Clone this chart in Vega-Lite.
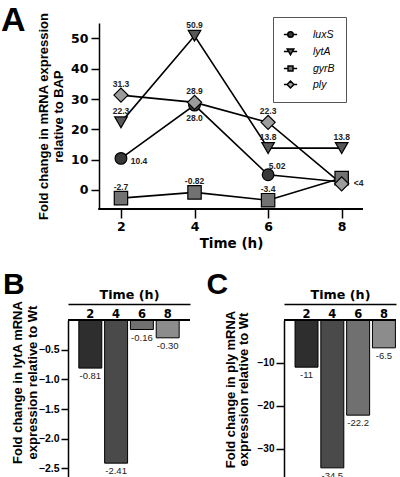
{
  "$schema": "https://vega.github.io/schema/vega-lite/v6.json",
  "background": "white",
  "padding": {"left": 1, "right": 0, "top": 4, "bottom": 0},
  "config": {
    "view": {"stroke": null},
    "font": "Liberation Sans",
    "axis": {"domainColor": "black", "tickColor": "black", "labelColor": "black", "titleColor": "black", "grid": false, "domainWidth": 1.5, "tickWidth": 1.5, "labelOverlap": false}
  },
  "spacing": 20,
  "vconcat": [
    {
      "width": 295,
      "height": 186,
      "title": {"text": "A", "anchor": "start", "frame": "group", "fontSize": 34, "fontWeight": "bold", "font": "Liberation Sans", "color": "black", "dx": -67, "dy": 30},
      "data": {"values": [
        {"gene": "luxS", "time": 2, "value": 10.4, "label": "10.4"},
        {"gene": "luxS", "time": 4, "value": 28.0, "label": "28.0"},
        {"gene": "luxS", "time": 6, "value": 5.02, "label": "5.02"},
        {"gene": "luxS", "time": 8, "value": 2.6, "label": ""},
        {"gene": "lytA", "time": 2, "value": 22.3, "label": "22.3"},
        {"gene": "lytA", "time": 4, "value": 50.9, "label": "50.9"},
        {"gene": "lytA", "time": 6, "value": 13.8, "label": "13.8"},
        {"gene": "lytA", "time": 8, "value": 13.8, "label": "13.8"},
        {"gene": "gyrB", "time": 2, "value": -2.7, "label": "-2.7"},
        {"gene": "gyrB", "time": 4, "value": -0.82, "label": "-0.82"},
        {"gene": "gyrB", "time": 6, "value": -3.4, "label": "-3.4"},
        {"gene": "gyrB", "time": 8, "value": 3.9, "label": ""},
        {"gene": "ply", "time": 2, "value": 31.3, "label": "31.3"},
        {"gene": "ply", "time": 4, "value": 28.9, "label": "28.9"},
        {"gene": "ply", "time": 6, "value": 22.3, "label": "22.3"},
        {"gene": "ply", "time": 8, "value": 2.0, "label": "<4"}
      ]},
      "encoding": {
        "x": {"field": "time", "type": "quantitative", "scale": {"domain": [0.56, 8.58], "nice": false, "zero": false},
          "axis": {"values": [2, 4, 6, 8], "domain": false, "title": "Time (h)", "titleX": 163, "titleFont": "DejaVu Sans", "titleFontSize": 13.5, "titleFontWeight": "bold", "titlePadding": 4, "labelFont": "DejaVu Sans", "labelFontSize": 12.5, "labelFontWeight": "bold", "tickSize": 9, "labelPadding": 2, "labelFlush": false, "labelOverlap": false}},
        "y": {"field": "value", "type": "quantitative", "scale": {"domain": [-6.3, 55.1], "nice": false, "zero": false},
          "axis": {"values": [0, 10, 20, 30, 40, 50], "offset": -31, "title": ["Fold change in mRNA expression", "relative to BAP"], "titleX": -48.5, "titleFontSize": 13, "titleFontWeight": "bold", "titleLineHeight": 15, "labelFont": "DejaVu Sans", "labelFontSize": 12.5, "labelFontWeight": "bold", "tickSize": 8, "labelPadding": 3, "labelOverlap": false}}
      },
      "layer": [
        {"mark": {"type": "rule", "color": "black", "strokeWidth": 1.5},
          "encoding": {"x": {"datum": 1.4}, "x2": {"datum": 8.58}, "y": {"datum": -6.3}}},
        {"mark": {"type": "line", "color": "black", "strokeWidth": 1.6}, "encoding": {"detail": {"field": "gene"}}},
        {"mark": {"type": "point", "filled": true, "stroke": "black", "strokeWidth": 1.2, "opacity": 1},
          "encoding": {
            "shape": {"field": "gene", "type": "nominal", "scale": {"domain": ["luxS", "lytA", "gyrB", "ply"], "range": ["circle", "triangle-down", "square", "diamond"]}, "legend": null},
            "fill": {"field": "gene", "type": "nominal", "scale": {"domain": ["luxS", "lytA", "gyrB", "ply"], "range": ["#383838", "#585858", "#727272", "#9c9c9c"]}, "legend": null},
            "size": {"field": "gene", "type": "nominal", "scale": {"domain": ["luxS", "lytA", "gyrB", "ply"], "range": [137, 200, 100, 170]}, "legend": null}
          }},
        {"transform": [{"filter": "datum.value > 1000"}],
          "mark": {"type": "point", "filled": true, "stroke": "black", "strokeWidth": 1.5, "opacity": 1},
          "encoding": {
            "shape": {"field": "gene", "type": "nominal", "scale": {"domain": ["luxS", "lytA", "gyrB", "ply"], "range": [
              "M-1.2,0H-0.5M0.5,0H1.2M-0.5,0A0.5,0.5,0,1,1,0.5,0A0.5,0.5,0,1,1,-0.5,0Z",
              "M-1.2,0H-0.3M0.3,0H1.2M-0.6,-0.45L0.6,-0.45L0,0.6Z",
              "M-1.2,0H-0.45M0.45,0H1.2M-0.45,-0.45H0.45V0.45H-0.45Z",
              "M-1.2,0H-0.62M0.62,0H1.2M-0.62,0L0,-0.62L0.62,0L0,0.62Z"]},
              "legend": {"title": null, "orient": "none", "legendX": 205, "legendY": -6, "strokeColor": "#555", "fillColor": "white", "padding": 11, "symbolSize": 121, "labelFontSize": 10.5, "labelFontStyle": "italic", "labelColor": "black", "labelOffset": 16, "rowPadding": 4,
                "encode": {"symbols": {"update": {"stroke": {"value": "black"}, "strokeWidth": {"value": 1.5}, "opacity": {"value": 1}}}}}},
            "fill": {"field": "gene", "type": "nominal", "scale": {"domain": ["luxS", "lytA", "gyrB", "ply"], "range": ["#383838", "#585858", "#727272", "#9c9c9c"]},
              "legend": {"title": null, "orient": "none", "legendX": 205, "legendY": -6, "strokeColor": "#555", "fillColor": "white", "padding": 11, "symbolSize": 121, "labelFontSize": 10.5, "labelFontStyle": "italic", "labelColor": "black", "labelOffset": 16, "rowPadding": 4,
                "encode": {"symbols": {"update": {"stroke": {"value": "black"}, "strokeWidth": {"value": 1.5}, "opacity": {"value": 1}}}}}}
          }},
        {"transform": [{"filter": "datum.gene == 'lytA' || (datum.gene == 'gyrB' && datum.time < 8) || (datum.gene == 'ply' && datum.time < 8)"}],
          "mark": {"type": "text", "dy": -11, "fontSize": 8.5, "fontWeight": "bold", "font": "Liberation Sans", "color": "#222"},
          "encoding": {"text": {"field": "label"}}},
        {"transform": [{"filter": "datum.gene == 'luxS' && datum.time == 2"}],
          "mark": {"type": "text", "dx": 18, "dy": 3, "fontSize": 8.5, "fontWeight": "bold", "font": "Liberation Sans", "color": "#222"},
          "encoding": {"text": {"field": "label"}}},
        {"transform": [{"filter": "datum.gene == 'luxS' && datum.time == 4"}],
          "mark": {"type": "text", "dy": 13, "fontSize": 8.5, "fontWeight": "bold", "font": "Liberation Sans", "color": "#222"},
          "encoding": {"text": {"field": "label"}}},
        {"transform": [{"filter": "datum.gene == 'luxS' && datum.time == 6"}],
          "mark": {"type": "text", "dx": 9, "dy": -9, "fontSize": 8.5, "fontWeight": "bold", "font": "Liberation Sans", "color": "#222"},
          "encoding": {"text": {"field": "label"}}},
        {"transform": [{"filter": "datum.gene == 'ply' && datum.time == 8"}],
          "mark": {"type": "text", "dx": 17, "dy": -1, "fontSize": 8.5, "fontWeight": "bold", "font": "Liberation Sans", "color": "#222"},
          "encoding": {"text": {"field": "label"}}}
      ],
      "resolve": {"scale": {"shape": "independent", "fill": "independent", "size": "independent"}, "legend": {"shape": "independent", "fill": "independent"}}
    },
    {
      "spacing": 15,
      "hconcat": [
        {
          "width": 122,
          "height": 159,
          "title": {"text": "B", "anchor": "start", "frame": "bounds", "fontSize": 30, "fontWeight": "bold", "font": "Liberation Sans", "color": "black", "dx": -8, "dy": 16},
          "data": {"values": [
            {"time": "2", "value": -0.81, "label": "-0.81"},
            {"time": "4", "value": -2.41, "label": "-2.41"},
            {"time": "6", "value": -0.16, "label": "-0.16"},
            {"time": "8", "value": -0.30, "label": "-0.30"}
          ]},
          "layer": [
            {"mark": {"type": "bar", "stroke": "black", "strokeWidth": 1},
              "encoding": {
                "x": {"field": "time", "type": "ordinal", "scale": {"paddingInner": 0.11, "paddingOuter": 0.42},
                  "axis": {"orient": "top", "title": "Time (h)", "titleFont": "DejaVu Sans", "titleFontSize": 12.7, "titleFontWeight": "bold", "titlePadding": 3, "labelFont": "DejaVu Sans", "labelFontSize": 11.5, "labelFontWeight": "bold", "labelAngle": 0, "labelBaseline": "middle", "labelPadding": -10, "ticks": false, "offset": 16, "domainWidth": 1.5}},
                "y": {"field": "value", "type": "quantitative", "scale": {"domain": [-2.677, 0], "nice": false, "zero": false},
                  "axis": {"tickCount": 6, "labelExpr": "datum.value == 0 ? '' : format(datum.value, '.1f')", "tickOpacity": {"condition": {"test": "datum.value == 0", "value": 0}, "value": 1}, "title": ["Fold change in lytA mRNA", "expression relative to Wt"], "titleX": -44, "titleY": 62, "titleFontSize": 13, "titleFontWeight": "bold", "titleLineHeight": 15, "labelFontSize": 10.5, "labelFontWeight": "bold", "tickSize": 7, "labelPadding": 2, "labelOverlap": false}},
                "fill": {"field": "time", "type": "ordinal", "scale": {"range": ["#2e2e2e", "#4a4a4a", "#707070", "#8c8c8c"]}, "legend": null}
              }},
            {"mark": {"type": "text", "baseline": "top", "dy": 3, "fontSize": 9.5, "color": "#222"},
              "encoding": {"x": {"field": "time", "type": "ordinal"}, "y": {"field": "value", "type": "quantitative"}, "text": {"field": "label"}}},
            {"mark": {"type": "rule", "color": "black", "strokeWidth": 1.5}, "encoding": {"y": {"datum": 0}}}
          ]
        },
        {
          "width": 112,
          "height": 159,
          "title": {"text": "C", "anchor": "start", "frame": "bounds", "fontSize": 30, "fontWeight": "bold", "font": "Liberation Sans", "color": "black", "dx": -18, "dy": 16},
          "data": {"values": [
            {"time": "2", "value": -11, "label": "-11"},
            {"time": "4", "value": -34.5, "label": "-34.5"},
            {"time": "6", "value": -22.2, "label": "-22.2"},
            {"time": "8", "value": -6.5, "label": "-6.5"}
          ]},
          "layer": [
            {"mark": {"type": "bar", "stroke": "black", "strokeWidth": 1},
              "encoding": {
                "x": {"field": "time", "type": "ordinal", "scale": {"paddingInner": 0.11, "paddingOuter": 0.225, "align": 0.95},
                  "axis": {"orient": "top", "title": "Time (h)", "titleFont": "DejaVu Sans", "titleFontSize": 12.7, "titleFontWeight": "bold", "titlePadding": 3, "labelFont": "DejaVu Sans", "labelFontSize": 11.5, "labelFontWeight": "bold", "labelAngle": 0, "labelBaseline": "middle", "labelPadding": -10, "ticks": false, "offset": 16, "domainWidth": 1.5}},
                "y": {"field": "value", "type": "quantitative", "scale": {"domain": [-37.1, 0], "nice": false, "zero": false},
                  "axis": {"values": [-10, -20, -30], "title": ["Fold change in ply mRNA", "expression relative to Wt"], "titleX": -46.5, "titleY": 69, "titleFontSize": 13, "titleFontWeight": "bold", "titleLineHeight": 13, "labelFontSize": 10, "labelFontWeight": "bold", "tickSize": 8, "labelPadding": 2, "labelOverlap": false}},
                "fill": {"field": "time", "type": "ordinal", "scale": {"range": ["#333333", "#4d4d4d", "#686868", "#8c8c8c"]}, "legend": null}
              }},
            {"mark": {"type": "text", "baseline": "top", "dy": 3, "fontSize": 9.5, "color": "#222"},
              "encoding": {"x": {"field": "time", "type": "ordinal"}, "y": {"field": "value", "type": "quantitative"}, "text": {"field": "label"}}},
            {"mark": {"type": "rule", "color": "black", "strokeWidth": 1.5}, "encoding": {"y": {"datum": 0}}}
          ]
        }
      ]
    }
  ]
}
